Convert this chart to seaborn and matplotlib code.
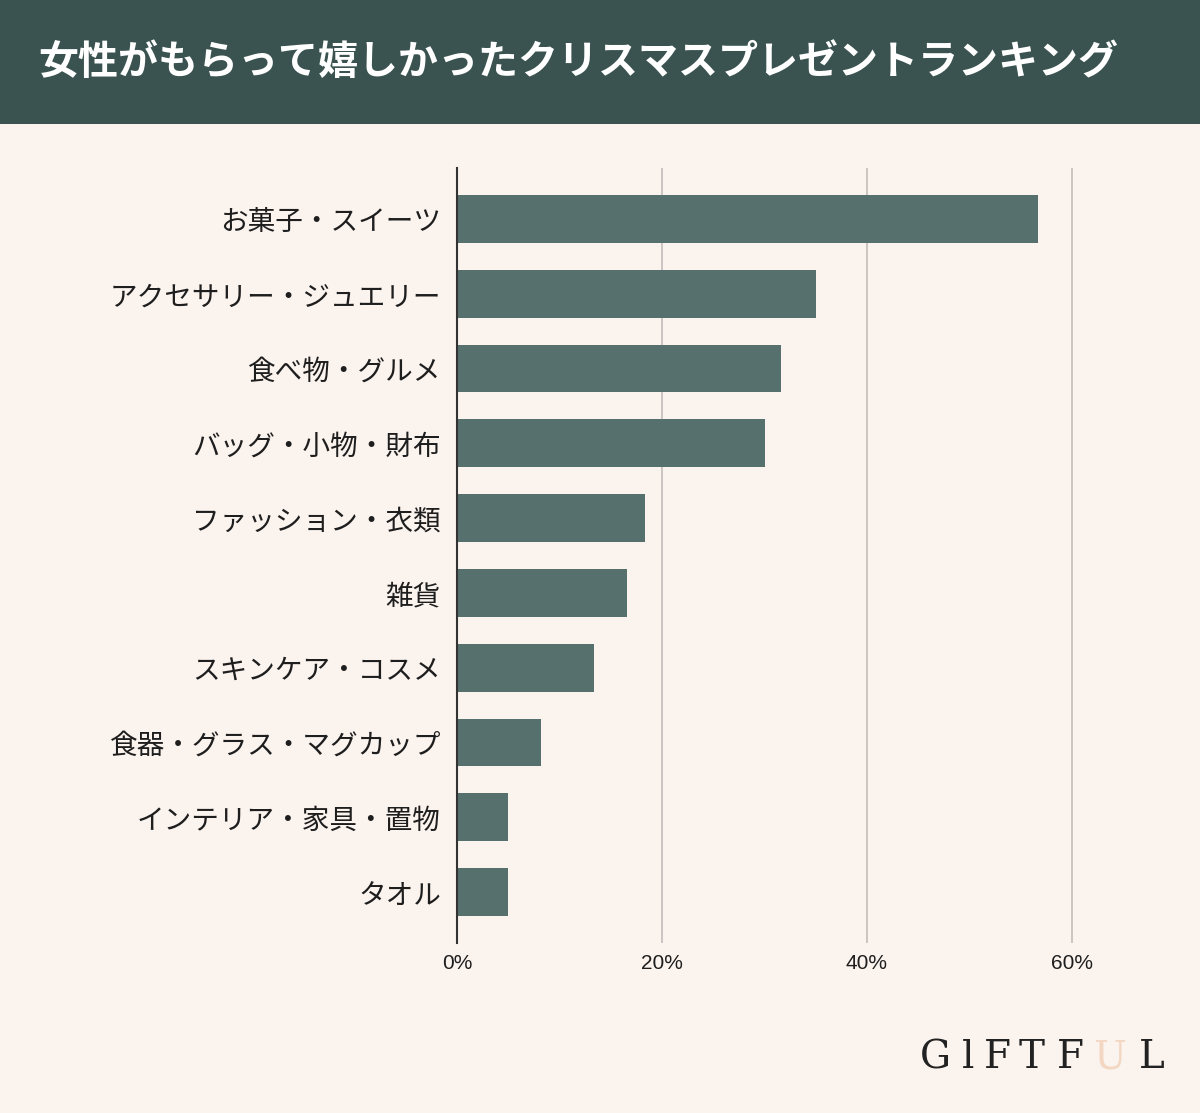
import matplotlib
matplotlib.use("Agg")
import matplotlib.pyplot as plt
import seaborn as sns
import pandas as pd
from matplotlib.patches import Rectangle
from matplotlib.ticker import FuncFormatter

title = "女性がもらって嬉しかったクリスマスプレゼントランキング"
categories = ["お菓子・スイーツ", "アクセサリー・ジュエリー", "食べ物・グルメ", "バッグ・小物・財布",
              "ファッション・衣類", "雑貨", "スキンケア・コスメ", "食器・グラス・マグカップ",
              "インテリア・家具・置物", "タオル"]
values = [56.7, 35.0, 31.6, 30.0, 18.3, 16.6, 13.4, 8.2, 5.0, 5.0]
xticks = [0, 20, 40, 60]

BG = "#fbf3ee"
HEADER = "#3a5350"
BAR = "#56706d"

sns.set_theme(style="white")
plt.rcParams['font.family'] = ['Noto Sans CJK JP', 'DejaVu Sans']

fig = plt.figure(figsize=(12, 11.13), dpi=100)
fig.patch.set_facecolor(BG)

# header band
fig.patches.append(Rectangle((0, 1 - 124 / 1113), 1, 124 / 1113, transform=fig.transFigure,
                             facecolor=HEADER, edgecolor="none", zorder=0))
fig.text(38 / 1200, 1 - 62 / 1113, title, color="white", fontsize=28.8, fontweight="bold",
         va="center", ha="left")

ax = fig.add_axes([457 / 1200, 1 - 943 / 1113, 717.5 / 1200, 775 / 1113])
ax.set_facecolor(BG)
df = pd.DataFrame({"category": categories, "value": values})
sns.barplot(data=df, x="value", y="category", orient="h", color=BAR, width=0.64,
            saturation=1, ax=ax, zorder=3, linewidth=0, edgecolor="none")
ax.set_xlim(0, 70)
ax.set_ylim(len(categories) - 1 + 0.68, -0.68)
ax.set_xticks(xticks)
ax.xaxis.set_major_formatter(FuncFormatter(lambda v, p: f"{int(v)}%"))
for x in xticks[1:]:
    ax.axvline(x, color="#c9c1bf", lw=1.3, zorder=1)
for s in ["top", "right", "bottom"]:
    ax.spines[s].set_visible(False)
ax.spines["left"].set_color("#333333")
ax.spines["left"].set_linewidth(1.5)
ax.spines["left"].set_zorder(5)
ax.tick_params(axis="both", length=0)
ax.tick_params(axis="y", labelsize=19.9, pad=11.5, labelcolor="#1e1e1e")
ax.tick_params(axis="x", labelsize=15, pad=8, labelcolor="#1e1e1e")
for lab in ax.get_xticklabels():
    lab.set_family(['Liberation Sans', 'DejaVu Sans'])
ax.set_xlabel("")
ax.set_ylabel("")

# logo
letters = ["G", "l", "F", "T", "F", "U", "L"]
xs = [935, 968, 997, 1032, 1070, 1110, 1152]
for ch, x in zip(letters, xs):
    fig.text(x / 1200, 1 - 1058 / 1113, ch, fontsize=28, family="DejaVu Serif",
             color="#f3d7c2" if ch == "U" else "#222222", ha="center", va="center",
             fontweight="light")

fig.savefig("out.png", dpi=100, facecolor=BG)
